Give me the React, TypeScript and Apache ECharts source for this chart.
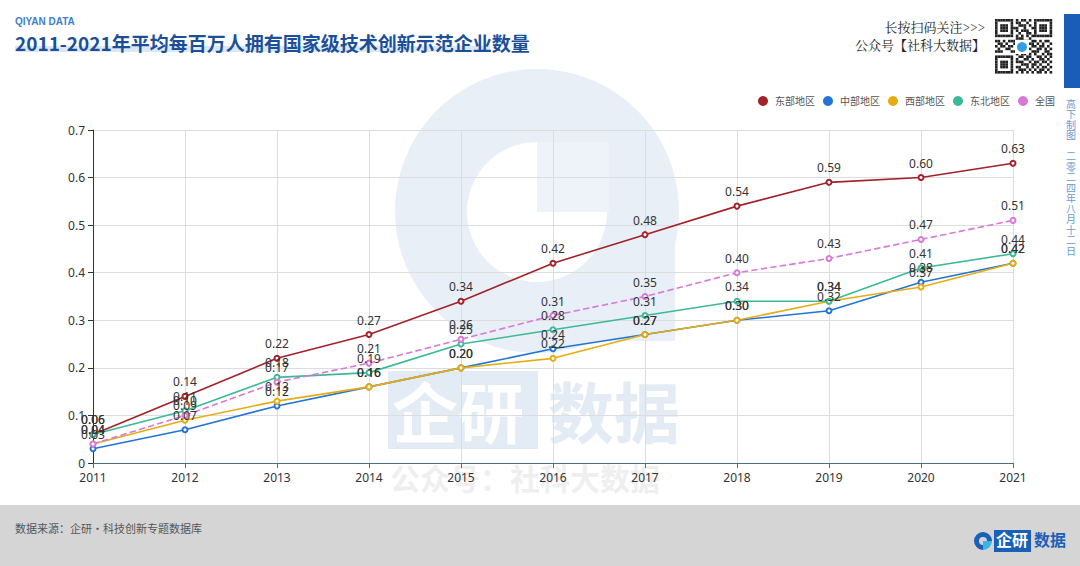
import React, { useEffect, useRef } from "react";
import * as echarts from "echarts";

const years = ["2011", "2012", "2013", "2014", "2015", "2016", "2017", "2018", "2019", "2020", "2021"];
const east = [0.06, 0.14, 0.22, 0.27, 0.34, 0.42, 0.48, 0.54, 0.59, 0.6, 0.63];
const central = [0.03, 0.07, 0.12, 0.16, 0.2, 0.24, 0.27, 0.3, 0.32, 0.38, 0.42];
const west = [0.04, 0.09, 0.13, 0.16, 0.2, 0.22, 0.27, 0.3, 0.34, 0.37, 0.42];
const northeast = [0.06, 0.11, 0.18, 0.19, 0.25, 0.28, 0.31, 0.34, 0.34, 0.41, 0.44];
const national = [0.04, 0.1, 0.17, 0.21, 0.26, 0.31, 0.35, 0.4, 0.43, 0.47, 0.51];

const seriesNames = ["东部地区", "中部地区", "西部地区", "东北地区", "全国"];
const seriesColors = ["#a3222a", "#2374d8", "#e6ac12", "#3cb996", "#d879d9"];
const seriesData = [east, central, west, northeast, national];

const title = "2011-2021年平均每百万人拥有国家级技术创新示范企业数量";
const source = "数据来源：企研·科技创新专题数据库";

// decorative QR-like pattern (rows of bits)
const qrRows = [
  "1111111010110101111111",
  "1000001011001001000001",
  "1011101001110101011101",
  "1011101110010011011101",
  "1011101010111001011101",
  "1000001001001101000001",
  "1111111010101011111111",
  "0000000011100100000000",
  "1101011100111011010110",
  "0110100111000110101001",
  "1011011001100011011010",
  "0100110010011100110101",
  "1110001101010011100110",
  "0000000010110101001011",
  "1111111001101100110101",
  "1000001010011010011010",
  "1011101011100101101101",
  "1011101000111011010010",
  "1011101011001010101101",
  "1000001001110101011010",
  "1111111010101010110101",
];

function qrGraphics(x0: number, y0: number, cell: number) {
  const out: any[] = [];
  qrRows.forEach((row, r) => {
    for (let c = 0; c < row.length; c++) {
      if (row[c] === "1") {
        out.push({
          type: "rect",
          shape: { x: x0 + c * cell, y: y0 + r * cell, width: cell, height: cell },
          style: { fill: "#222" },
        });
      }
    }
  });
  return out;
}

export default function App() {
  const ref = useRef<HTMLDivElement>(null);
  useEffect(() => {
    if (!ref.current) return;
    const chart = echarts.init(ref.current, null, { renderer: "svg" });
    const wm = "#e8eff7";
    const graphic: any[] = [
      // watermark logo
      {
        type: "group",
        z: -10,
        silent: true,
        children: [
          { type: "circle", shape: { cx: 537, cy: 211, r: 142 }, style: { fill: wm } },
          { type: "rect", shape: { x: 537, y: 211, width: 138, height: 130 }, style: { fill: wm } },
          { type: "circle", shape: { cx: 537, cy: 212, r: 70 }, style: { fill: "#ffffff" } },
          { type: "rect", shape: { x: 537, y: 142, width: 72, height: 70 }, style: { fill: "#edf3f9" } },
          { type: "rect", shape: { x: 388, y: 371, width: 150, height: 78 }, style: { fill: "#e3ecf5" } },
          {
            type: "text",
            x: 392,
            y: 376,
            style: { text: "企研", fill: "#ffffff", font: "bold 66px 'Noto Sans CJK SC'" },
          },
          {
            type: "text",
            x: 548,
            y: 376,
            style: { text: "数据", fill: "#e3ecf5", font: "bold 66px 'Noto Sans CJK SC'" },
          },
          {
            type: "text",
            x: 390,
            y: 462,
            style: { text: "公众号：社科大数据", fill: "#efefef", font: "bold 30px 'Noto Sans CJK SC'" },
          },
        ],
      },
      // header
      {
        type: "text",
        x: 15,
        y: 16,
        style: { text: "QIYAN DATA", fill: "#3d7fd0", font: "bold 10px 'Liberation Sans', Arial" },
      },
      { type: "rect", shape: { x: 15, y: 46, width: 475, height: 6 }, style: { fill: "#dbe8f6" } },
      {
        type: "text",
        x: 15,
        y: 33,
        style: { text: title, fill: "#1c4f99", font: "bold 19px 'Noto Sans CJK SC'" },
      },
      {
        type: "text",
        x: 985,
        y: 20,
        style: {
          text: "长按扫码关注>>>",
          fill: "#222",
          font: "13px 'Noto Serif CJK SC', 'Noto Sans CJK SC', serif",
          align: "right",
        },
      },
      {
        type: "text",
        x: 985,
        y: 38,
        style: {
          text: "公众号【社科大数据】",
          fill: "#222",
          font: "13px 'Noto Serif CJK SC', 'Noto Sans CJK SC', serif",
          align: "right",
        },
      },
      { type: "rect", shape: { x: 993, y: 18, width: 58, height: 58 }, style: { fill: "#fff" } },
      ...qrGraphics(995, 19, 2.6),
      { type: "rect", shape: { x: 1015, y: 40, width: 14, height: 14 }, style: { fill: "#fff" } },
      { type: "circle", shape: { cx: 1022, cy: 47, r: 5 }, style: { fill: "#3a9be0" } },
      { type: "rect", shape: { x: 1064, y: 14, width: 16, height: 74 }, style: { fill: "#1a5db8" } },
      {
        type: "text",
        x: 1071,
        y: 98,
        style: {
          text: "高\n下\n制\n图\n\n二\n零\n二\n四\n年\n八\n月\n十\n二\n日",
          fill: "#6a9ad6",
          font: "10px 'Noto Sans CJK SC'",
          align: "center",
          lineHeight: 10.5,
        },
      },
      // footer
      { type: "rect", shape: { x: 0, y: 505, width: 1080, height: 61 }, style: { fill: "#d5d5d5" } },
      {
        type: "text",
        x: 15,
        y: 522,
        style: { text: source, fill: "#555", font: "11px 'Noto Sans CJK SC'" },
      },
      {
        type: "sector",
        shape: { cx: 983, cy: 541, r0: 4, r: 9, startAngle: Math.PI * 0.5, endAngle: Math.PI * 2 },
        style: { fill: "#1a5fb8" },
      },
      {
        type: "sector",
        shape: { cx: 983, cy: 541, r0: 0, r: 9, startAngle: 0, endAngle: Math.PI * 0.5 },
        style: { fill: "#3db4e6" },
      },
      { type: "rect", shape: { x: 994, y: 530, width: 37, height: 22 }, style: { fill: "#1a5fb8" } },
      {
        type: "text",
        x: 996,
        y: 531,
        style: { text: "企研", fill: "#fff", font: "bold 16px 'Noto Sans CJK SC'" },
      },
      {
        type: "text",
        x: 1034,
        y: 531,
        style: { text: "数据", fill: "#1a5fb8", font: "bold 16px 'Noto Sans CJK SC'" },
      },
    ];

    chart.setOption({
      animation: false,
      backgroundColor: "#ffffff",
      textStyle: { fontFamily: "'Noto Sans', 'Noto Sans CJK SC', sans-serif" },
      graphic,
      legend: {
        right: 20,
        top: 91,
        itemWidth: 10,
        itemHeight: 10,
        itemGap: 8,
        icon: "circle",
        textStyle: { fontSize: 10, color: "#555", padding: [0, 0, 0, 2] },
        data: seriesNames,
      },
      grid: { left: 93, right: 67, top: 130, bottom: 103, containLabel: false },
      xAxis: {
        type: "category",
        data: years,
        boundaryGap: false,
        axisLine: { lineStyle: { color: "#4a6f87" } },
        axisTick: { show: true, lineStyle: { color: "#4a6f87" } },
        axisLabel: { color: "#333", fontSize: 12, margin: 8 },
        splitLine: { show: true, lineStyle: { color: "#dddddd" } },
      },
      yAxis: {
        type: "value",
        min: 0,
        max: 0.7,
        interval: 0.1,
        axisLine: { show: true, lineStyle: { color: "#333" } },
        axisTick: { show: true, lineStyle: { color: "#333" } },
        axisLabel: { color: "#333", fontSize: 12, formatter: (v: number) => (v === 0 ? "0" : v.toFixed(1)) },
        splitLine: { show: true, lineStyle: { color: "#dddddd" } },
      },
      series: seriesNames.map((name, i) => ({
        name,
        type: "line",
        data: seriesData[i],
        symbol: "emptyCircle",
        symbolSize: 5,
        color: seriesColors[i],
        lineStyle: { width: 1.6, type: i === 4 ? "dashed" : "solid", color: seriesColors[i] },
        itemStyle: { color: seriesColors[i], borderWidth: 1.5 },
        label: {
          show: true,
          position: "top",
          distance: 5,
          color: "#333",
          fontSize: 12,
          formatter: (p: any) => Number(p.value).toFixed(2),
        },
      })),
    });
    return () => chart.dispose();
  }, []);
  return (
    <div
      ref={ref}
      style={{ position: "fixed", left: 0, top: 0, width: 1080, height: 566, background: "#fff" }}
    />
  );
}
